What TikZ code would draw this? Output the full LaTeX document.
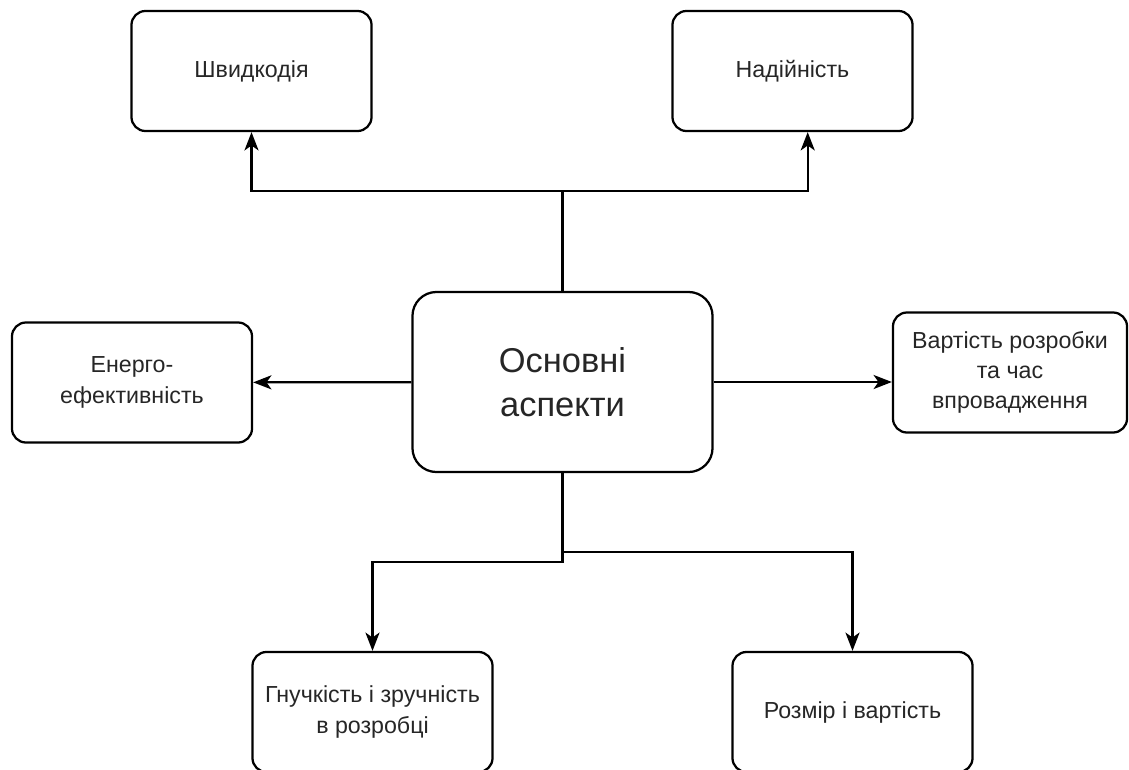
\documentclass[tikz,border=0pt]{standalone}
\usepackage{fontspec}
\setmainfont{Liberation Sans}
\usetikzlibrary{arrows.meta,positioning}

\begin{document}
\begin{tikzpicture}[
  x=0.025cm, y=-0.025cm,
  abox/.style={rectangle,draw,line width=1.6pt,rounded corners=0.35cm,minimum width=6cm,minimum height=3cm,align=center,inner sep=0pt,text=black!85,font=\fontsize{16.5}{21.5}\selectfont},
  mbox/.style={abox,rounded corners=0.6cm,minimum width=7.5cm,minimum height=4.5cm,font=\fontsize{24.5}{31}\selectfont},
  arrow/.style={-{Stealth[length=13pt,width=10pt,inset=3.5pt]},line width=1.6pt}
]
  \useasboundingbox (0,0) rectangle (1129,769);

  % Centre
  \node[mbox] (main) at (562.5,382) {Основні\\аспекти};

  % Top row
  \node[abox] (speed) at (251.5,71) {Швидкодія};
  \node[abox] (rely) at (792.5,71) {Надійність};

  % Sides
  \node[abox] (energy) at (132,382.5) {Енерго-\\ефективність};
  \node[abox,minimum width=5.85cm] (cost) at (1010,372.5) {Вартість розробки\\та час\\впровадження};

  % Bottom row
  \node[abox] (flex) at (372.5,712) {Гнучкість і зручність\\в розробці};
  \node[abox] (size) at (852.5,712) {Розмір і вартість};

  % Junctions
  \coordinate (up) at (562.5,191);
  \coordinate (downl) at (562.5,562);
  \coordinate (downr) at (562.5,552);

  % Arrows
  \draw[arrow] (main.north) -- (up) -| (speed.south);
  \draw[arrow] (main.north) -- (up) -| ([xshift=0.38cm]rely.south);
  \draw[arrow] (main) -- (energy);
  \draw[arrow] (main.east) -- (main.east -| cost.west);
  \draw[arrow] (main.south) -- (downl) -| (flex.north);
  \draw[arrow] (main.south) -- (downr) -| (size.north);
\end{tikzpicture}
\end{document}
